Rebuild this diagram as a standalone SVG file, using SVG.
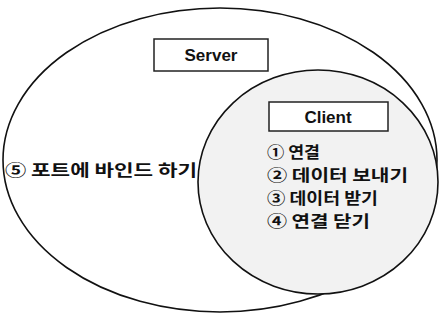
<svg xmlns="http://www.w3.org/2000/svg" width="439" height="321" viewBox="0 0 439 321">
<style>
.ell{stroke:#111;stroke-width:1.6}
.box{fill:#fff;stroke:#222;stroke-width:1.5}
.lbl{font-family:"Liberation Sans",Arial,sans-serif;font-weight:bold;font-size:17px;fill:#111;text-anchor:middle}
.kr{font-family:"Noto Sans CJK KR","Noto Sans",sans-serif;font-weight:bold;font-size:16px;fill:#111}
</style>
<rect width="439" height="321" fill="#fff"/>
<g id="server">
<ellipse class="ell" cx="220" cy="160" rx="217" ry="152" fill="#fff"/>
<rect class="box" x="154" y="39" width="114" height="32"/>
<text class="lbl" x="211" y="61">Server</text>
<text class="kr" x="5" y="176" textLength="192" lengthAdjust="spacingAndGlyphs">⑤ 포트에 바인드 하기</text>
</g>
<g id="client">
<ellipse class="ell" cx="318" cy="182" rx="120" ry="112" fill="#f2f2f2"/>
<rect class="box" x="269" y="102" width="119" height="29"/>
<text class="lbl" x="328" y="123">Client</text>
<text class="kr" x="267" y="158" textLength="53" lengthAdjust="spacingAndGlyphs">① 연결</text>
<text class="kr" x="267" y="181" textLength="141" lengthAdjust="spacingAndGlyphs">② 데이터 보내기</text>
<text class="kr" x="267" y="204" textLength="111" lengthAdjust="spacingAndGlyphs">③ 데이터 받기</text>
<text class="kr" x="267" y="227" textLength="103" lengthAdjust="spacingAndGlyphs">④ 연결 닫기</text>
</g>
<g id="connectors"/>
</svg>
